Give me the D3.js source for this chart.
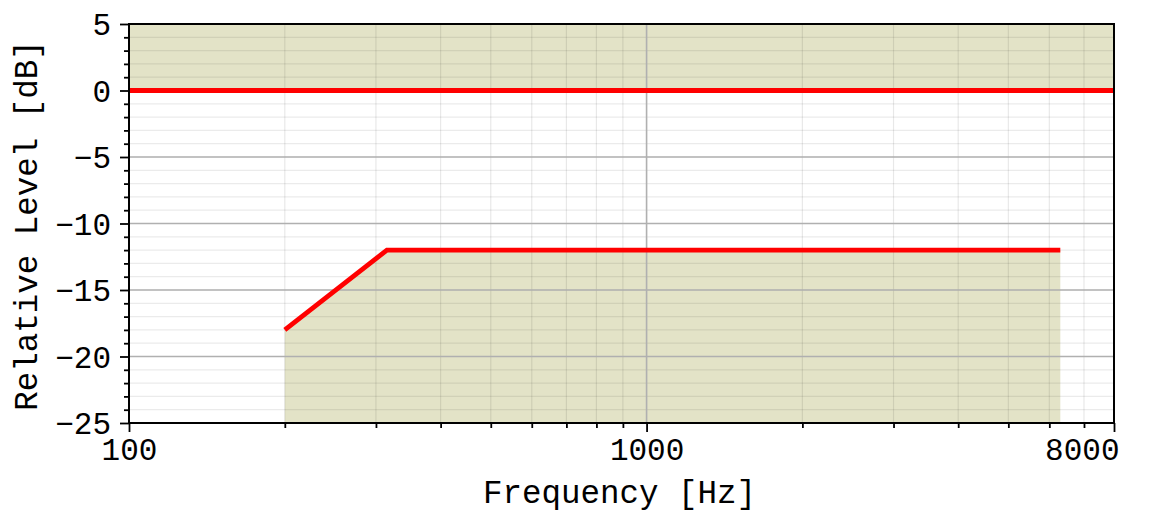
<!DOCTYPE html>
<html>
<head>
<meta charset="utf-8">
<script src="https://cdn.jsdelivr.net/npm/d3@7"></script>
<style>
  body { margin: 0; background: #fff; }
  text { font-family: "Liberation Mono", "DejaVu Sans Mono", monospace; fill: #000; }
</style>
</head>
<body>
<svg id="chart" width="1154" height="513"></svg>
<script>
// limit curve (lower) and reference level
const limitFreq = [200, 315, 6300];
const limitLevel = [-18, -12, -12];
const refFreq = [100, 8000];
const refLevel = [0, 0];
const bandTop = [0, 5];          // shaded band above reference

const xMajor = [100, 1000, 8000];
const xMinor = [200, 300, 400, 500, 600, 700, 800, 900, 2000, 3000, 4000, 5000, 6000, 7000];
const yMajor = [-25, -20, -15, -10, -5, 0, 5];
const yMinor = d3.range(-25, 6, 1);

let margins = {top: 24, right: 40, bottom: 90, left: 129};
let width = 1154, height = 513;
let w = width - margins.left - margins.right;
let h = height - margins.top - margins.bottom;

const svg = d3.select("#chart");
const g = svg.append("g").attr("transform", "translate(" + margins.left + "," + margins.top + ")");

var x = d3.scaleLog().domain([100, 8000]).range([0, w]);
var y = d3.scaleLinear().domain([-25, 5]).range([h, 0]);

const shade = "#808000";

// shaded band 0..5 dB
g.append("rect")
  .attr("x", 0).attr("width", w)
  .attr("y", y(bandTop[1])).attr("height", y(bandTop[0]) - y(bandTop[1]))
  .attr("fill", shade).attr("fill-opacity", 0.22);

// shaded area under the limit curve
let limitPts = limitFreq.map((f, i) => [f, limitLevel[i]]);
g.append("path")
  .datum(limitPts)
  .attr("d", d3.area().x(d => x(d[0])).y0(y(-25)).y1(d => y(d[1])))
  .attr("fill", shade).attr("fill-opacity", 0.22);

// grid
g.selectAll("line.ygrid-minor").data(yMinor).enter().append("line")
  .attr("x1", 0).attr("x2", w)
  .attr("y1", d => y(d)).attr("y2", d => y(d))
  .attr("stroke", "#000").attr("stroke-opacity", 0.08).attr("stroke-width", 1.2);
g.selectAll("line.xgrid-minor").data(xMinor).enter().append("line")
  .attr("x1", d => x(d)).attr("x2", d => x(d))
  .attr("y1", 0).attr("y2", h)
  .attr("stroke", "#000").attr("stroke-opacity", 0.09).attr("stroke-width", 1.2);
g.selectAll("line.ygrid").data(yMajor).enter().append("line")
  .attr("x1", 0).attr("x2", w)
  .attr("y1", d => y(d)).attr("y2", d => y(d))
  .attr("stroke", "#b0b0b0").attr("stroke-width", 1.6);
g.selectAll("line.xgrid").data([1000]).enter().append("line")
  .attr("x1", d => x(d)).attr("x2", d => x(d))
  .attr("y1", 0).attr("y2", h)
  .attr("stroke", "#b0b0b0").attr("stroke-width", 1.6);

// red lines
let line = d3.line().x(d => x(d[0])).y(d => y(d[1]));
g.append("path")
  .datum(refFreq.map((f, i) => [f, refLevel[i]]))
  .attr("d", line).attr("fill", "none")
  .attr("stroke", "#ff0000").attr("stroke-width", 4.8);
g.append("path")
  .datum(limitPts)
  .attr("d", line).attr("fill", "none")
  .attr("stroke", "#ff0000").attr("stroke-width", 4.8);

// axes
let xAxis = g.append("g").attr("transform", "translate(0," + h + ")");
xAxis.call(d3.axisBottom(x).tickValues(xMajor).tickFormat(d3.format("d")).tickSize(9).tickPadding(6));
let xAxisMinor = g.append("g").attr("transform", "translate(0," + h + ")");
xAxisMinor.call(d3.axisBottom(x).tickValues(xMinor).tickFormat("").tickSize(5));

let yAxis = g.append("g");
yAxis.call(d3.axisLeft(y).tickValues(yMajor).tickFormat(d => d < 0 ? "\u2212" + Math.abs(d) : d).tickSize(9).tickPadding(9));
let yAxisMinor = g.append("g");
yAxisMinor.call(d3.axisLeft(y).tickValues(yMinor.filter(d => d % 5 !== 0)).tickFormat("").tickSize(5));

g.selectAll(".domain").remove();
g.selectAll(".tick line").attr("stroke", "#000").attr("stroke-width", 1.8);
g.selectAll(".tick text").style("font-size", "31px").attr("fill", "#000");
yAxis.selectAll(".tick text").attr("dy", "0.35em");
// last x label sits left of its tick, as in the original
xAxis.selectAll(".tick text").filter(d => d === 8000).attr("text-anchor", "end").attr("dx", 5);

// frame
g.append("rect")
  .attr("x", 0).attr("y", 0).attr("width", w).attr("height", h)
  .attr("fill", "none").attr("stroke", "#000").attr("stroke-width", 2);

// axis labels
svg.append("text")
  .attr("x", margins.left + w / 2 - 2).attr("y", 503)
  .attr("text-anchor", "middle").style("font-size", "32.5px")
  .text("Frequency [Hz]");
svg.append("text")
  .attr("transform", "translate(37," + (margins.top + h / 2 + 2) + ") rotate(-90)")
  .attr("text-anchor", "middle").style("font-size", "32.5px")
  .text("Relative Level [dB]");
</script>
</body>
</html>
